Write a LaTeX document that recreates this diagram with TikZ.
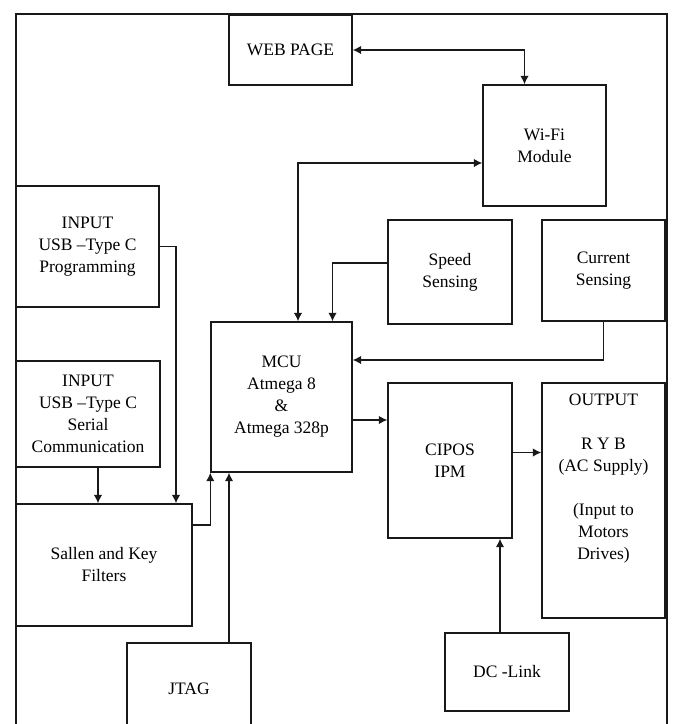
\documentclass[tikz,border=0pt]{standalone}
\usepackage{fontspec}
\setmainfont{Liberation Serif}
\usetikzlibrary{arrows.meta,calc}
\definecolor{ink}{RGB}{25,25,25}
\tikzset{
  blk/.style 2 args={draw=ink,line width=1.4pt,align=center,inner sep=2pt,
    minimum width=#1,minimum height=#2},
  outer/.style={draw=ink,line width=2.6pt},
  link/.style={-{Latex[length=8.5pt,width=8.5pt]},line width=1.3pt,draw=ink},
  duplex/.style={link,{Latex[length=8.5pt,width=8.5pt]}-{Latex[length=8.5pt,width=8.5pt]}},
}

\begin{document}
\begin{tikzpicture}[x=1pt,y=-1pt,font=\fontsize{17.5}{22}\selectfont]
  \useasboundingbox (0,0) rectangle (673,724);
  \clip (0,0) rectangle (673,724);
  \draw[outer] (16,14) rectangle (667,760);
  % blocks
  \node[blk={123}{70}] (web) at (290.5,50) {WEB PAGE};
  \node[blk={123}{121}] (wifi) at (544.5,145.5) {Wi-Fi\\Module};
  \node[blk={143}{121}] (prog) at (87.5,246.5) {INPUT\\USB –Type C\\Programming};
  \node[blk={144}{106}] (ser) at (88,414) {INPUT\\USB –Type C\\Serial\\Communication};
  \node[blk={176}{122}] (sk) at (104,565) {Sallen and Key\\Filters};
  \node[blk={141}{150}] (mcu) at (281.5,397) {MCU\\Atmega 8\\\&\\Atmega 328p};
  \node[blk={124}{104}] (spd) at (450,272) {Speed\\Sensing};
  \node[blk={123}{101}] (cur) at (603.5,270.5) {Current\\Sensing};
  \node[blk={124}{155}] (ipm) at (450,460.5) {CIPOS\\IPM};
  \node[blk={123}{235},label={[align=center,yshift=22pt]center:{OUTPUT\\[22pt]R Y B\\(AC Supply)\\[22pt](Input to\\Motors\\Drives)}}] (out) at (603.5,500.5) {};
  \node[blk={124}{92}] (jtag) at (189,689) {JTAG};
  \node[blk={124}{78}] (dcl) at (507,672) {DC -Link};
  % links
  \draw[duplex] (web.east) -| ([xshift=-20pt]wifi.north);
  \draw[duplex] ([yshift=-17.5pt]wifi.west) -| ([xshift=16.5pt]mcu.north);
  \draw[link] ([yshift=9pt]spd.west) -| ([xshift=51pt]mcu.north);
  \draw[link] (cur.south) |- ([yshift=37pt]mcu.east);
  \coordinate (m1) at ([yshift=-23pt]mcu.east);
  \draw[link] (m1) -- (m1 -| ipm.west);
  \coordinate (i1) at ([yshift=8pt]ipm.east);
  \draw[link] (i1) -- (i1 -| out.west);
  \coordinate (d1) at ([xshift=-7pt]dcl.north);
  \draw[link] (d1) -- (d1 |- ipm.south);
  \coordinate (j1) at ([xshift=40pt]jtag.north);
  \draw[link] (j1) -- (j1 |- mcu.south);
  \draw[link] ([yshift=40pt]sk.east) -| (mcu.south west);
  \draw[link] (prog.east) -| ([xshift=72pt]sk.north);
  \coordinate (s1) at ([xshift=10pt]ser.south);
  \draw[link] (s1) -- (s1 |- sk.north);
\end{tikzpicture}
\end{document}
